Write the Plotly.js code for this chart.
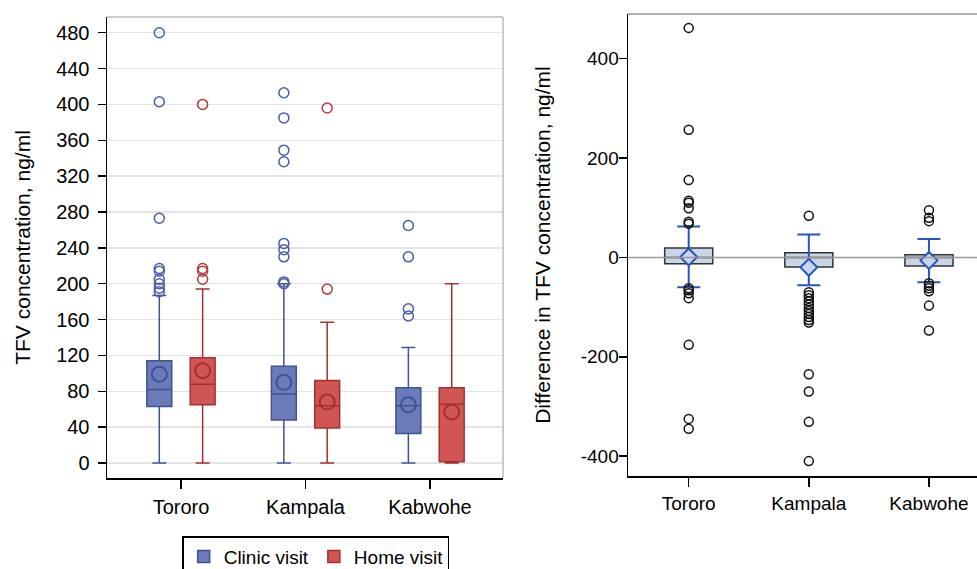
<!DOCTYPE html>
<html><head><meta charset="utf-8">
<script src="https://cdn.plot.ly/plotly-3.0.1.min.js"></script>
<style>html,body{margin:0;padding:0;background:#fff}#chart{width:977px;height:569px}</style>
</head><body><div id="chart"></div>
<script>
const sites = ['Tororo', 'Kampala', 'Kabwohe'];

// Left panel: TFV concentration by visit type
const clinicQ1 = [63, 48, 33];
const clinicMedian = [82, 77, 64];
const clinicQ3 = [114, 108, 84];
const clinicLow = [0, 0, 0];
const clinicHigh = [187, 200, 129];
const clinicMean = [99, 90, 65];
const clinicOutliers = [
  [480, 403, 273, 217, 214, 205, 200, 195, 191],
  [413, 385, 349, 336, 245, 238, 230, 202, 200],
  [265, 230, 172, 164]
];
const homeQ1 = [65, 39, 1.5];
const homeMedian = [88, 64, 65.5];
const homeQ3 = [117.5, 92, 84];
const homeLow = [0, 0, 0];
const homeHigh = [194, 157, 200];
const homeMean = [103, 68, 57];
const homeOutliers = [
  [400, 217, 214, 205],
  [396, 194],
  []
];
const leftTicks = [0, 40, 80, 120, 160, 200, 240, 280, 320, 360, 400, 440, 480];

// Right panel: difference in TFV concentration
const diffQ1 = [-12.7, -19.3, -17.3];
const diffMedian = [0, 0, 0];
const diffQ3 = [19, 9.5, 5.4];
const diffMean = [1, -20, -6];
const diffLow = [-60, -56, -50];
const diffHigh = [62, 46, 37];
const diffOutliers = [
  [462, 257, 156, 114, 110, 99, 72, 68, -62, -66, -72, -82, -176, -325, -345],
  [84, -70, -76, -82, -88, -95, -102, -108, -114, -120, -126, -131, -235, -270, -331, -410],
  [95, 80, 73, -52, -57, -62, -68, -97, -147]
];
const rightTicks = [-400, -200, 0, 200, 400];

const FONT = 'Liberation Sans, Arial, sans-serif';
const off = 0.174;
const idx = sites.map((s, i) => i);

const blueFill = '#6A7BB8', blueLine = '#3F5199';
const redFill = '#D05555', redLine = '#A53030';

function flatX(groups, shift) {
  const xs = [], ys = [];
  groups.forEach((g, i) => g.forEach(v => { xs.push(i + shift); ys.push(v); }));
  return {xs, ys};
}

const co = flatX(clinicOutliers, -off);
const ho = flatX(homeOutliers, off);
const dout = flatX(diffOutliers, 0);

const traces = [
  {type: 'box', name: 'Clinic visit', x: idx.map(i => i - off), q1: clinicQ1, median: clinicMedian, q3: clinicQ3,
   lowerfence: clinicLow, upperfence: clinicHigh, width: 0.2, whiskerwidth: 0.56,
   fillcolor: blueFill, line: {color: blueLine, width: 1.5}, boxpoints: false, hoverinfo: 'skip', xaxis: 'x', yaxis: 'y'},
  {type: 'box', name: 'Home visit', x: idx.map(i => i + off), q1: homeQ1, median: homeMedian, q3: homeQ3,
   lowerfence: homeLow, upperfence: homeHigh, width: 0.2, whiskerwidth: 0.56,
   fillcolor: redFill, line: {color: redLine, width: 1.5}, boxpoints: false, hoverinfo: 'skip', xaxis: 'x', yaxis: 'y'},
  {type: 'scatter', mode: 'markers', x: idx.map(i => i - off), y: clinicMean, showlegend: false, hoverinfo: 'skip',
   marker: {symbol: 'circle-open', size: 15, color: blueLine, line: {width: 2}}, xaxis: 'x', yaxis: 'y'},
  {type: 'scatter', mode: 'markers', x: idx.map(i => i + off), y: homeMean, showlegend: false, hoverinfo: 'skip',
   marker: {symbol: 'circle-open', size: 15, color: redLine, line: {width: 2}}, xaxis: 'x', yaxis: 'y'},
  {type: 'scatter', mode: 'markers', x: co.xs, y: co.ys, showlegend: false, hoverinfo: 'skip',
   marker: {symbol: 'circle-open', size: 10, color: '#4A5DAA', line: {width: 1.5}}, xaxis: 'x', yaxis: 'y'},
  {type: 'scatter', mode: 'markers', x: ho.xs, y: ho.ys, showlegend: false, hoverinfo: 'skip',
   marker: {symbol: 'circle-open', size: 10, color: '#B83B3B', line: {width: 1.5}}, xaxis: 'x', yaxis: 'y'},

  {type: 'box', name: 'Difference', x: idx, q1: diffQ1, median: diffMedian, q3: diffQ3,
   lowerfence: diffQ1, upperfence: diffQ3, width: 0.4, whiskerwidth: 0, showlegend: false,
   fillcolor: '#CBD5E8', line: {color: '#333333', width: 1.5}, boxpoints: false, hoverinfo: 'skip', xaxis: 'x2', yaxis: 'y2'},
  {type: 'scatter', mode: 'markers', x: idx, y: diffMean, showlegend: false, hoverinfo: 'skip',
   error_y: {type: 'data', symmetric: false, array: diffHigh.map((v, i) => v - diffMean[i]),
             arrayminus: diffMean.map((v, i) => v - diffLow[i]), color: '#2456C0', thickness: 2, width: 11.5},
   marker: {symbol: 'diamond', size: 13, color: '#CBD5E8', line: {width: 2, color: '#2456C0'}}, xaxis: 'x2', yaxis: 'y2'},
  {type: 'scatter', mode: 'markers', x: dout.xs, y: dout.ys, showlegend: false, hoverinfo: 'skip',
   marker: {symbol: 'circle-open', size: 9, color: '#111', line: {width: 1.5}}, xaxis: 'x2', yaxis: 'y2'}
];

const axBase = {showline: true, linecolor: '#000', linewidth: 1.5, ticks: 'outside', tickcolor: '#000', tickwidth: 1.5,
  zeroline: false, fixedrange: true};

const layout = {
  width: 977, height: 569,
  margin: {l: 107, r: 0, t: 14, b: 91, autoexpand: false},
  paper_bgcolor: '#fff', plot_bgcolor: 'rgba(0,0,0,0)',
  font: {family: FONT, color: '#000'},
  showlegend: true,
  boxmode: 'overlay',
  legend: {orientation: 'h', x: 0.2402, xanchor: 'center', y: -0.126, yanchor: 'top',
    bordercolor: '#000', borderwidth: 1.2, bgcolor: '#fff', font: {family: FONT, size: 19, color: '#000'}},
  xaxis: Object.assign({}, axBase, {domain: [0, 0.4552], range: [-0.594, 2.586], tickvals: idx, ticktext: sites,
    ticklen: 9, showgrid: false, ticklabelstandoff: 1, tickfont: {family: FONT, size: 20}}),
  yaxis: Object.assign({}, axBase, {domain: [0, 0.9935], range: [-16.7, 497.5], tickvals: leftTicks,
    ticklen: 8, showgrid: true, gridcolor: '#E4E4E4', gridwidth: 1.5, ticklabelstandoff: 4,
    tickfont: {family: FONT, size: 20},
    title: {text: 'TFV concentration, ng/ml', font: {family: FONT, size: 21}, standoff: 20}}),
  xaxis2: Object.assign({}, axBase, {anchor: 'y2', domain: [0.5989, 1], range: [-0.505, 2.4], tickvals: idx, ticktext: sites,
    ticklen: 9, showgrid: false, ticklabelstandoff: 1, tickfont: {family: FONT, size: 19}}),
  yaxis2: Object.assign({}, axBase, {anchor: 'x2', domain: [0.0043, 1], range: [-440, 490], tickvals: rightTicks,
    ticktext: rightTicks.map(v => String(v)), ticklen: 8, showgrid: false, ticklabelstandoff: -4,
    tickfont: {family: FONT, size: 19},
    title: {text: 'Difference in TFV concentration, ng/ml', font: {family: FONT, size: 21}, standoff: 24}}),
  shapes: [
    {type: 'line', xref: 'x domain', yref: 'y domain', x0: 0, x1: 1, y0: 1, y1: 1, line: {color: '#BBBBBB', width: 1.5}},
    {type: 'line', xref: 'x domain', yref: 'y domain', x0: 1, x1: 1, y0: 0, y1: 1, line: {color: '#BBBBBB', width: 1.5}},
    {type: 'line', xref: 'x2 domain', yref: 'y2 domain', x0: 0, x1: 1, y0: 1, y1: 1, line: {color: '#999999', width: 1.5}},
    {type: 'line', xref: 'x2 domain', yref: 'y2', x0: 0, x1: 1, y0: 0, y1: 0, layer: 'above', line: {color: '#9A9A9A', width: 1.5}}
  ]
};

Plotly.newPlot('chart', traces, layout, {displayModeBar: false, staticPlot: true});
</script>
</body></html>
